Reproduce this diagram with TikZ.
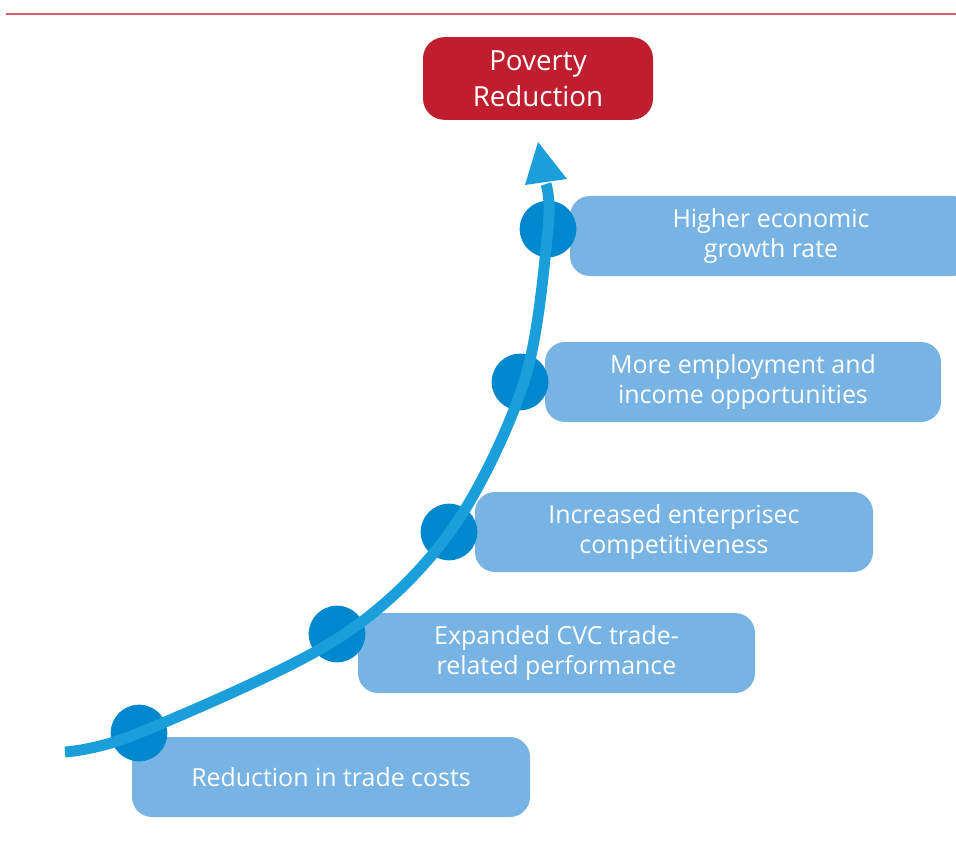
\documentclass[tikz,border=0pt]{standalone}
\usepackage{fontspec}
\setmainfont{Open Sans}
\usetikzlibrary{arrows.meta}
\definecolor{topline}{HTML}{D05F66}
\definecolor{povred}{HTML}{BE1E2D}
\definecolor{boxblue}{HTML}{77B3E3}
\definecolor{dotblue}{HTML}{0088CF}
\definecolor{curveblue}{HTML}{1A9FDB}
\begin{document}
\begin{tikzpicture}[x=0.75pt,y=-0.75pt,
  stepbox/.style={fill=boxblue, rounded corners=15pt, minimum height=60pt, text=white, align=center, font=\fontsize{18.7}{22.5}\selectfont, inner sep=0pt},
  goalbox/.style={fill=povred, rounded corners=16pt, minimum height=62pt, minimum width=172.5pt, text=white, align=center, font=\fontsize{20.8}{27}\selectfont, inner sep=0pt},
  dot/.style={circle, fill=dotblue, minimum size=42.5pt, inner sep=0pt},
  rule/.style={draw=topline, line width=1.5pt},
  flow/.style={draw=curveblue, line width=8.2pt}]
\useasboundingbox (0,0) rectangle (956,859);
\coordinate (r1) at (6,14);
\coordinate (r2) at (956,14);
\path[rule] (r1) -- (r2);
\node[goalbox] (pov) at (538,78.5) {Poverty\\Reduction};
\node[stepbox, minimum width=301.5pt] (b1) at (771,236) {Higher economic\\growth rate};
\node[stepbox, minimum width=297pt] (b2) at (743,382) {More employment and\\income opportunities};
\node[stepbox, minimum width=298.5pt] (b3) at (674,532) {Increased enterprisec\\competitiveness};
\node[stepbox, minimum width=297.75pt] (b4) at (556.5,653) {Expanded CVC trade-\\related performance};
\node[stepbox, minimum width=298.5pt] (b5) at (331,777) {Reduction in trade costs};
\node[dot] (d1) at (548,229) {};
\node[dot] (d2) at (520,382) {};
\node[dot] (d3) at (449,532) {};
\node[dot] (d4) at (337,634) {};
\node[dot] (d5) at (139,733) {};
\coordinate (start) at (65,752);
\coordinate (c5) at (139,733);
\coordinate (c4) at (337,639);
\coordinate (c3) at (450,532);
\coordinate (c2) at (524,382);
\coordinate (c1) at (548,229);
\coordinate (shaftend) at (546,184);
\coordinate (tip) at (538,142);
\coordinate (hl) at (525,185);
\coordinate (hr) at (567,179);
\path[flow] plot[smooth, tension=0.55] coordinates {(start) (c5) (c4) (c3) (c2) (c1) (shaftend)};
\fill[curveblue] (tip) -- (hl) -- (hr) -- cycle;
\end{tikzpicture}
\end{document}
